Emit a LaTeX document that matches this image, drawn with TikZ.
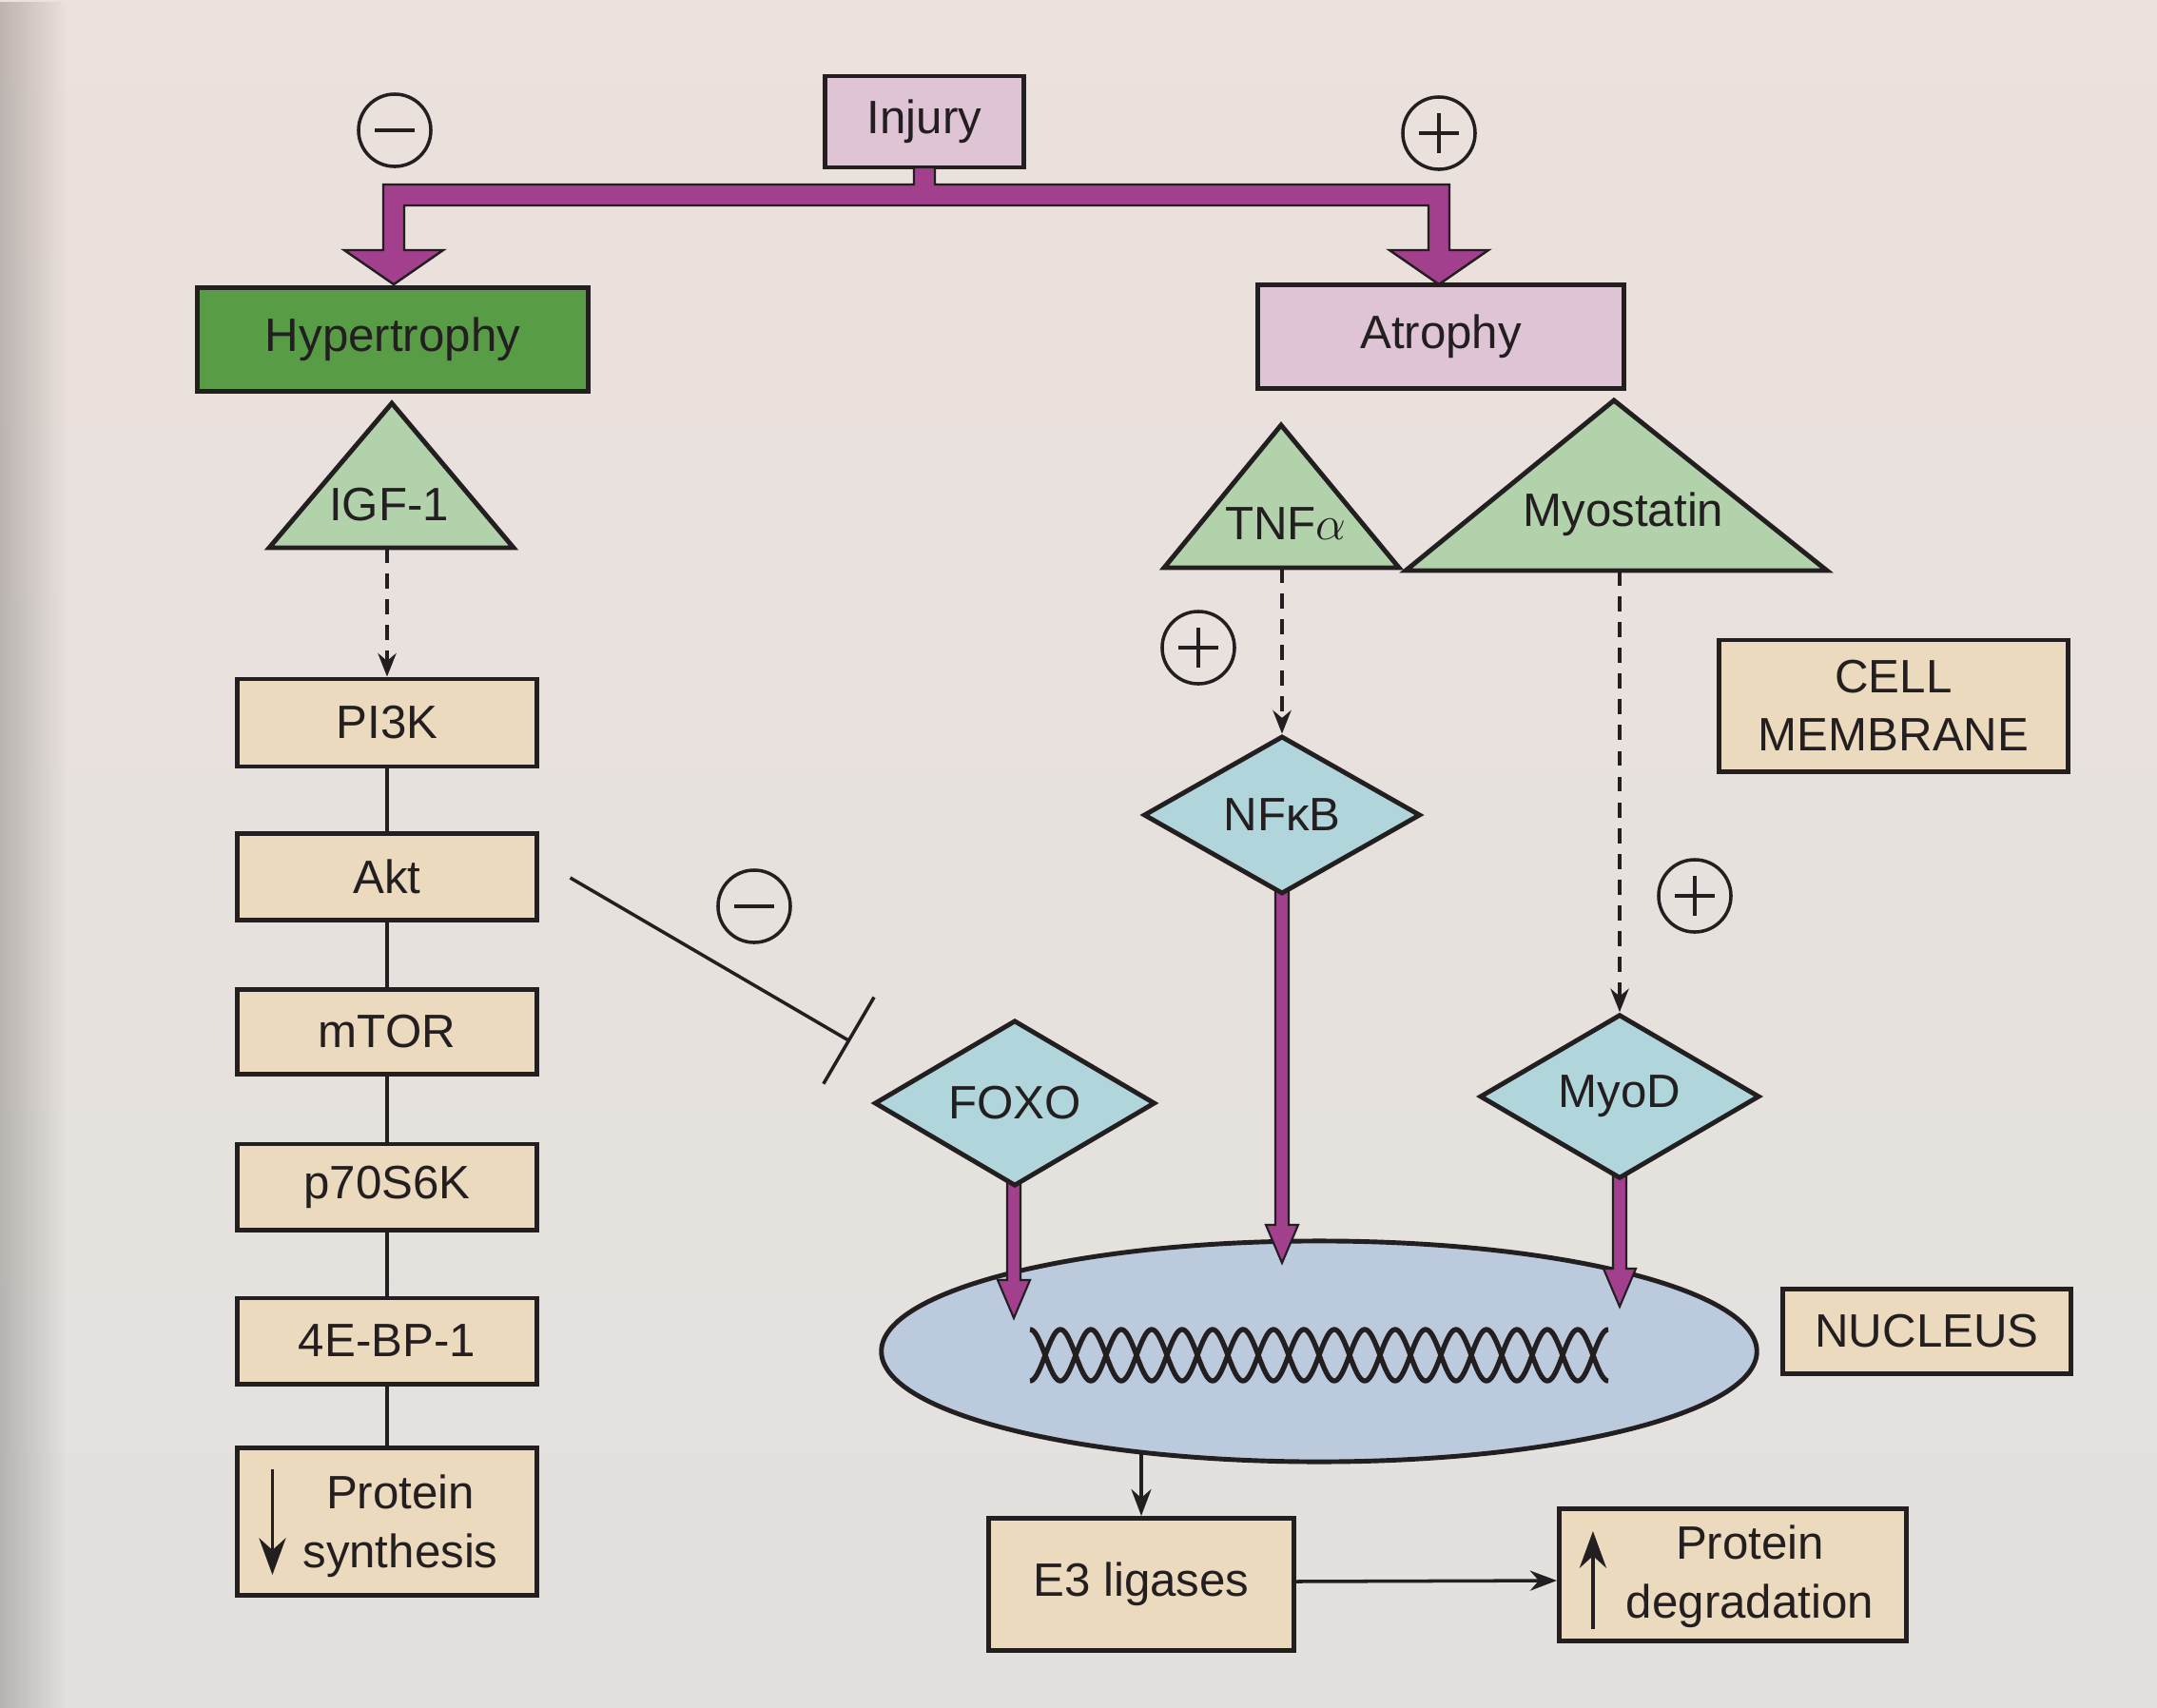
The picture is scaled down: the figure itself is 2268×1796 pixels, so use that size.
\documentclass[tikz,border=0pt]{standalone}
\usepackage{fontspec}
\setmainfont{Liberation Sans}
\usetikzlibrary{calc,arrows.meta,shapes.geometric,fadings}
\definecolor{ink}{RGB}{35,30,32}
\definecolor{bgtop}{RGB}{236,225,220}
\definecolor{bgbot}{RGB}{226,225,222}
\definecolor{tanf}{RGB}{236,218,190}
\definecolor{pinkf}{RGB}{222,196,212}
\definecolor{greenf}{RGB}{88,156,70}
\definecolor{trif}{RGB}{178,210,172}
\definecolor{diaf}{RGB}{176,214,220}
\definecolor{nucf}{RGB}{188,202,222}
\definecolor{purp}{RGB}{162,64,142}
\newcommand\fatdown[3]{%
  \filldraw[fill=purp,draw=ink,line width=0.6pt,line join=miter]
    (#1-7,#2) -- (#1-7,#3-40) -- (#1-17,#3-40) -- (#1,#3) -- (#1+17,#3-40) -- (#1+7,#3-40) -- (#1+7,#2) -- cycle;}
\begin{document}
\begin{tikzpicture}[x=0.01cm,y=-0.01cm,
  every node/.style={font=\fontsize{14}{17.5}\selectfont, text=ink},
  box/.style={draw=ink,line width=1.4pt,inner sep=0pt,align=center},
  tanbox/.style={box,fill=tanf},
  tri/.style={draw=ink,line width=1.4pt,fill=trif,line join=miter},
  dia/.style={diamond,draw=ink,line width=1.4pt,fill=diaf,inner sep=0pt},
  conn/.style={draw=ink,line width=1pt},
  dsh/.style={conn,dash pattern=on 4.5pt off 3.2pt,-{Stealth[length=7pt,width=5.5pt]}},
  arr/.style={conn,-{Stealth[length=8pt,width=6pt]}},
  sgn/.style={circle,draw=ink,line width=1pt,minimum size=0.76cm,inner sep=0pt},
]
\useasboundingbox (0,0) rectangle (2268,1796);
\shade[top color=bgtop,bottom color=bgbot] (0,0) rectangle (2268,1796);
\fill[black,opacity=0.2,path fading=east] (0,0) rectangle (70,1796);

% Injury and split arrow
\node[box,fill=pinkf,minimum width=2.08cm,minimum height=0.96cm] (inj) at (972,128) {Injury};
\filldraw[fill=purp,draw=ink,line width=0.7pt,line join=miter]
  (961,176) -- (961,194) -- (403,194) -- (403,263) -- (362,263) -- (414,299) -- (466,263)
  -- (425,263) -- (425,216) -- (1502,216) -- (1502,263) -- (1461,263) -- (1513,299)
  -- (1565,263) -- (1524,263) -- (1524,194) -- (983,194) -- (983,176) -- cycle;
\node[sgn] (sm1) at (415,137) {};
\draw[conn] ($(sm1)+(-21,0)$) -- ($(sm1)+(21,0)$);
\node[sgn] (sp1) at (1513,140) {};
\draw[conn] ($(sp1)+(-21,0)$) -- ($(sp1)+(21,0)$);
\draw[conn] ($(sp1)+(0,-21)$) -- ($(sp1)+(0,21)$);

\node[box,fill=greenf,minimum width=4.11cm,minimum height=1.09cm] (hyp) at (413,357) {Hypertrophy};
\node[box,fill=pinkf,minimum width=3.84cm,minimum height=1.09cm] (atr) at (1515,354) {Atrophy};

% Left column
\filldraw[tri] (412,424) -- (540,576) -- (283,576) -- cycle;
\node (igf) at (409,531) {IGF-1};
\coordinate (igfb) at (407,576);
\node[tanbox,minimum width=3.14cm,minimum height=0.92cm] (pi3k) at (407,760) {PI3K};
\node[tanbox,minimum width=3.14cm,minimum height=0.91cm] (akt) at (407,922) {Akt};
\node[tanbox,minimum width=3.14cm,minimum height=0.89cm] (mtor) at (407,1085) {mTOR};
\node[tanbox,minimum width=3.14cm,minimum height=0.90cm] (p70) at (407,1248) {p70S6K};
\node[tanbox,minimum width=3.14cm,minimum height=0.90cm] (ebp) at (407,1410) {4E-BP-1};
\node[tanbox,minimum width=3.14cm,minimum height=1.55cm] (ps) at (407,1600) {};
\node[align=center] (pstext) at (421,1605) {Protein\\synthesis};
\draw[conn,line width=1.1pt,-{Stealth[length=11pt,width=8pt]}] ($(ps.west)+(39,-55)$) -- ($(ps.west)+(39,56)$);
\draw[dsh] (igfb) -- (pi3k.north);
\draw[conn] (pi3k.south) -- (akt.north);
\draw[conn] (akt.south) -- (mtor.north);
\draw[conn] (mtor.south) -- (p70.north);
\draw[conn] (p70.south) -- (ebp.north);
\draw[conn] (ebp.south) -- (ps.north);

% Right triangles
\filldraw[tri] (1347,447) -- (1471,597) -- (1224,597) -- cycle;
\node (tnf) at (1352,551) {TNF$\alpha$};
\coordinate (tnfb) at (1348,597);
\filldraw[tri] (1697,421) -- (1921,600) -- (1478,600) -- cycle;
\node (myo) at (1707,541) {Myostatin};
\coordinate (myob) at (1703,600);

\node[sgn] (sp2) at (1260,681) {};
\draw[conn] ($(sp2)+(-21,0)$) -- ($(sp2)+(21,0)$);
\draw[conn] ($(sp2)+(0,-21)$) -- ($(sp2)+(0,21)$);
\node[sgn] (sp3) at (1782,942) {};
\draw[conn] ($(sp3)+(-21,0)$) -- ($(sp3)+(21,0)$);
\draw[conn] ($(sp3)+(0,-21)$) -- ($(sp3)+(0,21)$);

\node[tanbox,minimum width=3.66cm,minimum height=1.38cm] (cm) at (1991,742) {CELL\\MEMBRANE};
\node[tanbox,minimum width=3.02cm,minimum height=0.89cm] (nl) at (2026,1400) {NUCLEUS};

% Nucleus
\node[ellipse,draw=ink,line width=1.4pt,fill=nucf,minimum width=9.2cm,minimum height=2.32cm] (nuc) at (1387,1421) {};
\draw[ink,line width=1.5pt] plot[domain=0:608,samples=600] ({1083+\x},{1425+27*cos(5.625*\x)});
\draw[ink,line width=1.5pt] plot[domain=0:608,samples=600] ({1083+\x},{1425-27*cos(5.625*\x)});

% Fat arrows into nucleus
\fatdown{1066}{1225}{1386}
\fatdown{1348}{925}{1328}
\fatdown{1703}{1220}{1374}

% Diamonds
\node[dia,minimum width=2.95cm,minimum height=1.62cm] (foxo) at (1067,1160) {FOXO};
\node[dia,minimum width=2.91cm,minimum height=1.66cm] (nfkb) at (1348,857) {NFκB};
\node[dia,minimum width=2.94cm,minimum height=1.62cm] (myod) at (1703,1153) {MyoD};

\draw[dsh] (tnfb) -- (nfkb.north);
\draw[dsh] (myob) -- (myod.north);

% Inhibition
\coordinate (ia) at ($(akt.east)+(33,1)$);
\coordinate (ib) at ($(foxo.west)+(-23,-65)$);
\draw[conn,-{Bar[width=30pt]}] (ia) -- (ib);
\node[sgn] (sm2) at (793,953) {};
\draw[conn] ($(sm2)+(-21,0)$) -- ($(sm2)+(21,0)$);

% Bottom
\node[tanbox,minimum width=3.20cm,minimum height=1.39cm] (e3) at (1200,1666) {E3 ligases};
\node[tanbox,minimum width=3.65cm,minimum height=1.39cm] (pd) at (1822,1656) {};
\node[align=center] (pdtext) at (1840,1658) {Protein\\degradation};
\draw[conn,line width=1.1pt,-{Stealth[length=11pt,width=8pt]}] ($(pd.west)+(38,57)$) -- ($(pd.west)+(38,-46)$);
\coordinate (nb) at (1200,1527);
\coordinate (pdin) at ($(pd.west)+(0,6)$);
\draw[arr] ($(e3.east)+(0,-3)$) -- (pdin);
\draw[arr] (nb) -- (e3.north);
\end{tikzpicture}
\end{document}
